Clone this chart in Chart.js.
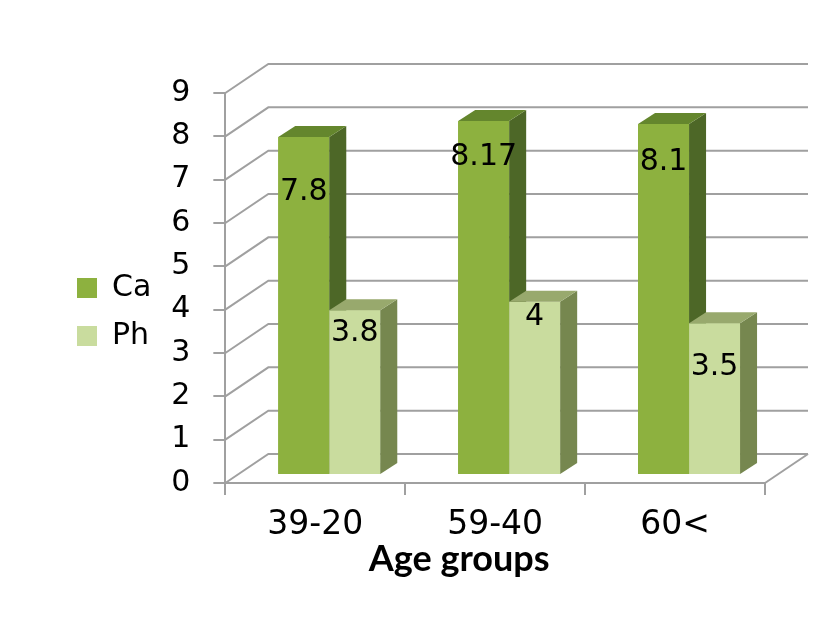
<!DOCTYPE html>
<html>
<head>
<meta charset="utf-8">
<title>Ca and Ph by age group</title>
<script src="https://cdn.jsdelivr.net/npm/chart.js@4.4.1/dist/chart.umd.min.js"></script>
<style>
    html, body { margin: 0; padding: 0; background: #fff; }
    #wrap { width: 827px; height: 630px; }
</style>
</head>
<body>
<div id="wrap"><canvas id="chart"></canvas></div>
<script>
const categories = ['39-20', '59-40', '60<'];
const caValues = [7.8, 8.17, 8.1];
const phValues = [3.8, 4, 3.5];
const yMin = 0;
const yMax = 9;
const yStep = 1;
const xTitle = 'Age groups';

const gridColor = '#a0a0a0';
const DEPTH = { x: 43, y: -29 };      // front axis -> back wall
const BAR_SHIFT = { x: 14, y: -8 };   // front axis -> front face of the bars
const BAR_DEPTH = { x: 17, y: -11 };  // thickness of each bar

Chart.defaults.font.family = '"DejaVu Sans", sans-serif';
Chart.defaults.color = '#000';

function poly(ctx, pts, fill) {
    ctx.beginPath();
    ctx.moveTo(pts[0][0], pts[0][1]);
    pts.slice(1).forEach(p => ctx.lineTo(p[0], p[1]));
    ctx.closePath();
    ctx.fillStyle = fill;
    ctx.fill();
}

// fakes the excel 3d look: walls, bar sides and tops, value labels
const box3d = {
    id: 'box3d',
    beforeDatasetsDraw(chart) {
        const { ctx, chartArea: a, scales: { y } } = chart;
        ctx.save();
        ctx.strokeStyle = gridColor;
        ctx.lineWidth = 2;
        y.ticks.forEach(t => {
            const py = y.getPixelForValue(t.value);
            ctx.beginPath();
            ctx.moveTo(a.left, py);
            ctx.lineTo(a.left + DEPTH.x, py + DEPTH.y);
            ctx.lineTo(a.right + DEPTH.x, py + DEPTH.y);
            ctx.stroke();
        });
        ctx.beginPath();
        ctx.moveTo(a.right, a.bottom);
        ctx.lineTo(a.right + DEPTH.x, a.bottom + DEPTH.y);
        ctx.stroke();
        ctx.restore();

        ctx.save();
        ctx.translate(BAR_SHIFT.x, BAR_SHIFT.y);
    },
    afterDatasetsDraw(chart, args, opts) {
        const ctx = chart.ctx;
        // chart.js paints the last dataset first, so repaint Ca -> Ph with sides and tops
        chart.data.datasets.forEach((ds, i) => {
            chart.getDatasetMeta(i).data.forEach(bar => {
                const { x, y, base, width } = bar.getProps(['x', 'y', 'base', 'width'], true);
                const l = x - width / 2, r = x + width / 2;
                const dx = BAR_DEPTH.x, dy = BAR_DEPTH.y;
                bar.draw(ctx);
                poly(ctx, [[r, y], [r + dx, y + dy], [r + dx, base + dy], [r, base]], ds.sideColor);
                poly(ctx, [[l, y], [l + dx, y + dy], [r + dx, y + dy], [r, y]], ds.topColor);
            });
        });

        ctx.font = '30px "DejaVu Sans"';
        ctx.fillStyle = '#000';
        ctx.textAlign = 'center';
        ctx.textBaseline = 'middle';
        chart.data.datasets.forEach((ds, i) => {
            chart.getDatasetMeta(i).data.forEach((bar, j) => {
                ctx.fillText(String(ds.data[j]), bar.x, bar.y + opts.labelDrop[i][j]);
            });
        });
        ctx.restore();
    },
    afterDraw(chart) {
        const { ctx, chartArea: a } = chart;
        ctx.save();
        ctx.font = 'bold 36px Lato, "Open Sans", sans-serif';
        ctx.fillStyle = '#000';
        ctx.textAlign = 'center';
        ctx.textBaseline = 'alphabetic';
        // excel centres it a bit left of the floor
        ctx.fillText(xTitle, (a.left + a.right) / 2 - 36, 571);
        ctx.restore();
    }
};

const chart = new Chart(document.getElementById('chart'), {
    type: 'bar',
    data: {
        labels: categories,
        datasets: [
            {
                label: 'Ca',
                data: caValues,
                backgroundColor: '#8db13f',
                sideColor: '#4d6727',
                topColor: '#64862d',
                borderWidth: 0
            },
            {
                label: 'Ph',
                data: phValues,
                backgroundColor: '#c9dc9e',
                sideColor: '#76874f',
                topColor: '#98a96d',
                borderWidth: 0
            }
        ]
    },
    options: {
        responsive: true,
        maintainAspectRatio: false,
        animation: false,
        datasets: {
            bar: { barPercentage: 1, categoryPercentage: 0.567 }
        },
        layout: { padding: { left: 59, right: 62, top: 93, bottom: 0 } },
        plugins: {
            legend: {
                position: 'left',
                fullSize: false,
                // empty title just nudges the two entries down a little
                title: { display: true, text: ' ', padding: 0, font: { size: 40 } },
                labels: {
                    boxWidth: 20,
                    boxHeight: 20,
                    padding: 18,
                    font: { size: 30 }
                }
            },
            tooltip: { enabled: false },
            box3d: { labelDrop: [[55, 36, 38], [23, 16, 44]] }
        },
        scales: {
            x: {
                grid: { drawOnChartArea: false, tickLength: 12, color: gridColor, lineWidth: 2 },
                border: { color: gridColor, width: 2 },
                ticks: { font: { size: 33 }, padding: 11 },
                afterFit: s => { s.height = 147; }
            },
            y: {
                min: yMin,
                max: yMax,
                grid: { drawOnChartArea: false, tickLength: 12, color: gridColor, lineWidth: 2 },
                border: { color: gridColor, width: 2 },
                ticks: { stepSize: yStep, font: { size: 30 }, padding: 23 },
                afterFit: s => { s.width = 64; }
            }
        }
    },
    plugins: [box3d]
});
</script>
</body>
</html>
